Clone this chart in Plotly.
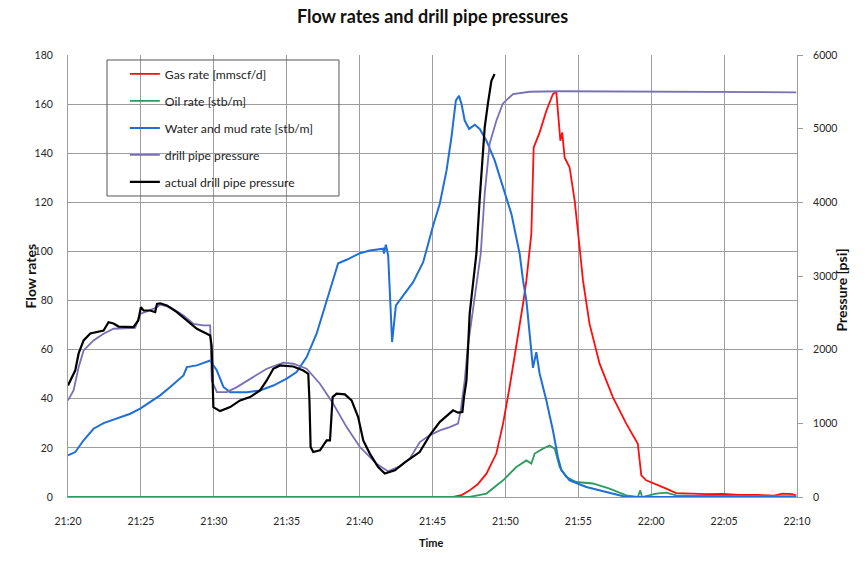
import pandas as pd
import plotly.graph_objects as go

# Time axis starts at 21:20; every series is sampled in minutes after that.
START = pd.Timestamp("2010-04-20 21:20")
END_MIN = 50

# Gas rate [mmscf/d]
gas_min = [0, 26.41, 27.0, 27.55, 28.1, 28.7, 29.38, 29.84, 30.29, 30.75, 31.21, 31.44, 31.66, 31.78,
           31.94, 32.35, 32.81, 33.26, 33.49, 33.67, 33.77, 33.9, 34.06, 34.4, 34.75, 35.09,
           35.32, 35.77, 36.46, 37.37, 38.29, 39.08, 39.2, 39.32, 39.66, 40.34, 41.03, 41.71,
           42.62, 43.77, 44.88, 46.04, 47.14, 48.44, 48.99, 49.68, 49.95]
gas_rate = [0, 0, 0.8, 2.7, 5.2, 9.5, 17.7, 29.9, 44.8, 61.0, 78.7, 88.2, 99.1, 107.3,
            142.4, 148.5, 157.3, 164.1, 165.1, 150.5, 145.1, 148.5, 138.3, 134.3, 120.7, 101.7,
            88.2, 70.5, 54.3, 40.7, 29.9, 21.7, 14.9, 8.8, 6.8, 5.2, 3.4, 1.6,
            1.4, 1.2, 1.3, 0.9, 0.9, 0.6, 1.4, 1.2, 0.6]

# Oil rate [stb/m]
oil_min = [0, 27.55, 28.7, 29.84, 30.75, 31.44, 31.78, 32.01, 32.58, 33.03, 33.38, 33.72,
           34.18, 34.86, 36.0, 37.14, 38.29, 39.08, 39.25, 39.37, 40.34, 41.03, 41.71, 42.62,
           49.95]
oil_rate = [0, 0, 1.4, 6.8, 12.2, 14.9, 13.6, 17.7, 19.7, 21.0, 19.7, 12.2,
            8.1, 6.1, 5.5, 3.4, 0.7, 0, 2.7, 0, 1.4, 1.8, 0.7, 0.5,
            0.3]

# Water and mud rate [stb/m]
water_min = [0, 0.5, 1.07, 1.75, 2.44, 3.36, 4.27, 4.95, 5.64, 6.32, 7.01, 7.92,
             8.15, 8.84, 9.75, 10.21, 10.66, 11.12, 12.26, 13.17, 14.08, 15.0, 15.68, 16.37,
             17.05, 17.74, 18.19, 18.53, 19.11, 20.02, 20.71, 21.62, 21.67, 21.8, 21.96, 22.23,
             22.49, 22.99, 23.67, 24.36, 25.04, 25.5, 25.96, 26.3, 26.6, 26.82, 26.99, 27.21,
             27.51, 27.9, 28.24, 28.7, 29.27, 29.84, 30.41, 30.98, 31.21, 31.44, 31.66, 31.89,
             32.12, 32.35, 32.81, 33.26, 33.6, 33.84, 34.4, 35.55, 36.92, 38.29, 49.95]
water_rate = [17.0, 18.3, 23.1, 27.8, 30.1, 31.9, 33.9, 36.0, 38.6, 41.4, 44.8, 49.5,
              52.9, 53.6, 55.6, 51.5, 44.8, 42.7, 42.7, 43.4, 45.4, 48.2, 50.9, 57.0,
              66.5, 80.0, 89.5, 95.2, 96.6, 99.3, 100.4, 101.1, 99.1, 102.7, 98.3, 63.1,
              78.0, 82.1, 87.5, 95.6, 110.5, 119.4, 132.9, 146.5, 161.4, 163.4, 160.0, 153.3,
              149.9, 151.6, 149.9, 145.1, 137.0, 126.1, 115.3, 99.0, 88.2, 80.0, 67.8, 52.6,
              59.0, 50.2, 39.3, 27.1, 16.3, 10.9, 6.8, 4.1, 2.0, 0.0, 0.0]

# Modelled drill pipe pressure [psi]
dpp_min = [0, 0.38, 0.73, 1.07, 1.75, 2.44, 3.12, 4.04, 4.61, 4.95, 5.41, 6.1,
           6.32, 7.01, 7.92, 8.6, 9.29, 9.75, 9.86, 10.21, 10.89, 11.58, 12.49, 13.63,
           14.77, 15.45, 16.37, 17.28, 18.19, 19.11, 20.02, 21.16, 21.94, 22.76, 23.45, 24.13,
           24.81, 25.5, 26.18, 26.75, 26.92, 27.21, 27.42, 27.9, 28.1, 28.31, 28.58, 28.92,
           29.38, 29.82, 30.52, 31.66, 33.72, 49.95]
dpp_psi = [1311, 1447, 1763, 1990, 2125, 2216, 2284, 2292, 2297, 2487, 2518, 2577,
           2613, 2577, 2464, 2351, 2329, 2329, 1582, 1424, 1424, 1492, 1606, 1741,
           1823, 1809, 1741, 1538, 1266, 949, 678, 452, 349, 416, 524, 746,
           837, 904, 949, 995, 1153, 1582, 2034, 2712, 2937, 3305, 4118, 4796,
           5108, 5339, 5470, 5501, 5508, 5494]

# Actual (measured) drill pipe pressure [psi]
actual_min = [0, 0.16, 0.5, 0.73, 1.07, 1.53, 2.44, 2.78, 3.12, 3.47, 4.04, 4.49,
              4.82, 5.0, 5.18, 5.64, 5.98, 6.1, 6.32, 6.78, 7.47, 8.15, 8.84, 9.52,
              9.75, 9.85, 9.93, 9.97, 10.43, 11.12, 11.8, 12.49, 13.17, 13.63, 14.08, 14.54,
              15.45, 16.14, 16.48, 16.56, 16.64, 16.82, 17.28, 17.74, 17.97, 18.15, 18.42, 18.99,
              19.45, 19.9, 20.25, 20.7, 21.27, 21.73, 22.42, 23.1, 24.12, 24.81, 25.49, 26.18,
              26.41, 26.75, 27.05, 27.16, 27.33, 27.55, 27.76, 28.01, 28.23, 28.58, 28.8, 29.04,
              29.26]
actual_psi = [1515, 1582, 1720, 1949, 2125, 2220, 2260, 2373, 2356, 2314, 2314, 2305,
              2396, 2577, 2532, 2532, 2509, 2622, 2630, 2600, 2509, 2396, 2283, 2216,
              2193, 2057, 1311, 1220, 1166, 1220, 1311, 1356, 1447, 1582, 1741, 1786,
              1772, 1717, 1673, 1311, 678, 610, 633, 768, 768, 1356, 1402, 1393,
              1311, 1085, 768, 589, 407, 320, 362, 471, 610, 837, 1017, 1131,
              1176, 1145, 1153, 1356, 1582, 2491, 2848, 3305, 4024, 5017, 5339, 5650,
              5743]


def to_time(minutes):
    return START + pd.to_timedelta(minutes, unit="min")


FONT = "Lato"
GRID = "#9c9c9c"
TEXT = "#262626"

series = [
    ("Gas rate [mmscf/d]", gas_min, gas_rate, "#ff0d0d", 1.8, "y"),
    ("Oil rate [stb/m]", oil_min, oil_rate, "#2f9a5e", 1.8, "y"),
    ("Water and mud rate [stb/m]", water_min, water_rate, "#1f6fd8", 2.0, "y"),
    ("drill pipe pressure", dpp_min, dpp_psi, "#7870b4", 1.8, "y2"),
    ("actual drill pipe pressure", actual_min, actual_psi, "#000000", 2.2, "y2"),
]

fig = go.Figure()
for i, (name, mins, vals, color, width, axis) in enumerate(series):
    fig.add_trace(go.Scatter(
        x=to_time(mins), y=vals, name=name, mode="lines",
        line=dict(color=color, width=width),
        yaxis=axis, legendgroup=f"g{i}",
    ))

fig.update_layout(
    width=865, height=562,
    margin=dict(l=68, r=68, t=55, b=65),
    paper_bgcolor="white", plot_bgcolor="white",
    font=dict(family=FONT, color=TEXT),
    title=dict(
        text="<b>Flow rates and drill pipe pressures</b>",
        font=dict(family=FONT, size=18, color="#111111"),
        x=0.5, xref="container", xanchor="center",
        y=1 - 17 / 562, yref="container", yanchor="middle",
    ),
    showlegend=True,
    legend=dict(
        x=0.078, y=0.99, xanchor="left", yanchor="top",
        bgcolor="rgba(0,0,0,0)", borderwidth=0,
        font=dict(family=FONT, size=12.2, color="#222222"),
        tracegroupgap=8, traceorder="grouped",
    ),
    xaxis=dict(
        type="date",
        range=[to_time(0), to_time(END_MIN)],
        tick0=to_time(0), dtick=5 * 60 * 1000, tickformat="%H:%M",
        showgrid=True, gridcolor=GRID, gridwidth=1,
        showline=True, linecolor=GRID, linewidth=1,
        ticks="", ticklabelstandoff=14,
        tickfont=dict(family=FONT, size=10.5, color=TEXT),
        zeroline=False,
    ),
    yaxis=dict(
        range=[0, 180], dtick=20,
        showgrid=True, gridcolor=GRID, gridwidth=1,
        showline=True, linecolor=GRID, linewidth=1,
        ticks="", ticklabelstandoff=12, zeroline=False,
        tickfont=dict(family=FONT, size=10.5, color=TEXT),
    ),
    yaxis2=dict(
        range=[0, 6000], dtick=1000,
        overlaying="y", side="right",
        showgrid=False, zeroline=False,
        showline=True, linecolor=GRID, linewidth=1,
        ticks="outside", ticklen=5, tickcolor=GRID,
        ticklabelstandoff=8,
        tickfont=dict(family=FONT, size=10.5, color=TEXT),
    ),
)

# Legend frame
fig.add_shape(type="rect", xref="paper", yref="paper",
              x0=0.0535, x1=0.3717, y0=0.681, y1=0.9887,
              line=dict(color="#555555", width=1), fillcolor="rgba(0,0,0,0)",
              layer="above")

# Axis titles
fig.add_annotation(text="<b>Flow rates</b>", xref="paper", yref="paper",
                   x=-0.066, y=0.5, textangle=-90, showarrow=False,
                   font=dict(family=FONT, size=14, color="#111111"))
fig.add_annotation(text="<b>Pressure [psi]</b>", xref="paper", yref="paper",
                   x=1.0754, y=0.468, textangle=-90, showarrow=False,
                   font=dict(family=FONT, size=14, color="#111111"))
fig.add_annotation(text="<b>Time</b>", xref="paper", yref="paper",
                   x=0.4993, y=-0.122, showarrow=False,
                   font=dict(family=FONT, size=11, color="#111111"))

fig.write_html("out.html")
